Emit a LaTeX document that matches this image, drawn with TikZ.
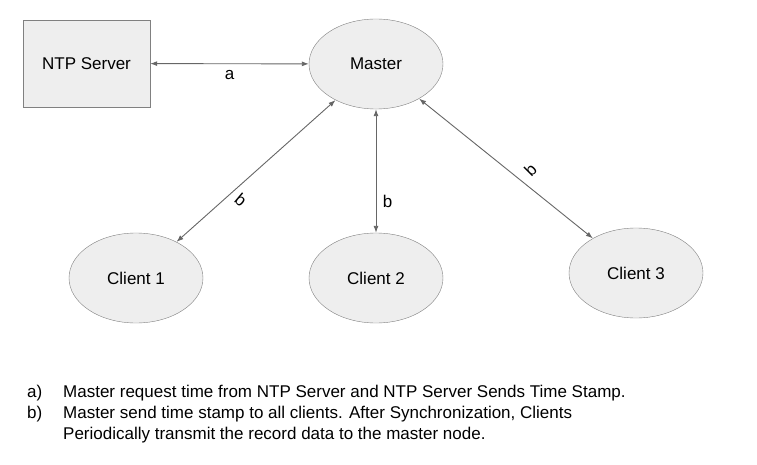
\documentclass[tikz,border=0pt]{standalone}
\usepackage{fontspec}
\setmainfont{Liberation Sans}
\usetikzlibrary{shapes.geometric,arrows.meta}

\definecolor{boxfill}{HTML}{EEEEEE}
\definecolor{boxline}{HTML}{808080}
\definecolor{linkgray}{HTML}{666666}

\tikzset{
    server/.style={draw=boxline, fill=boxfill, rectangle, minimum width=127pt, minimum height=87pt, inner sep=0pt},
    station/.style={draw=boxline, fill=boxfill, ellipse, minimum width=134pt, minimum height=90pt, inner sep=0pt},
    link/.style={draw=linkgray, line width=0.9pt, {Latex[length=7pt,width=5pt]}-{Latex[length=7pt,width=5pt]}},
    note/.style={anchor=base west, inner sep=0pt}
}

\begin{document}
\begin{tikzpicture}[x=1pt, y=-1pt, font=\fontsize{17}{20}\selectfont]
        \useasboundingbox (0,0) rectangle (757,465);

        % Define server and master
        \node[server] (NTP) at (86.5,63.5) {NTP Server};
        \node[station] (M) at (376,64) {Master};

        % Define clients as ellipses
        \node[station] (C1) at (136,278) {Client 1};
        \node[station] (C2) at (376,278) {Client 2};
        \node[station] (C3) at (636,273) {Client 3};

        % Define links
        \draw[link] (NTP) -- (M) node[midway, below=3pt] {a};
        \draw[link] (M) -- (C1) node[pos=0.62, xshift=4pt, yshift=-12pt, rotate=-40] {b};
        \draw[link] (M) -- (C2) node[pos=0.75, right=3pt] {b};
        \draw[link] (M) -- (C3) node[pos=0.64, yshift=18pt, rotate=45] {b};

        % Notes below the picture
        \node[note] (la) at (27,397) {a)};
        \node[note] (ta) at (63,397) {Master request time from NTP Server and NTP Server Sends Time Stamp.};
        \node[note] (lb) at (27,418) {b)};
        \node[note] (tb) at (63,418) {Master send time stamp to all clients. After Synchronization, Clients};
        \node[note] (tc) at (63,439) {Periodically transmit the record data to the master node.};
    \end{tikzpicture}
\end{document}
